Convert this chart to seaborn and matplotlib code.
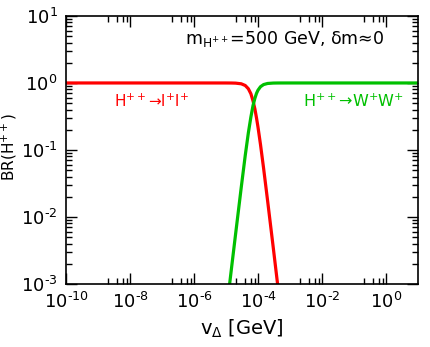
import numpy as np
import pandas as pd
import matplotlib
matplotlib.use("Agg")
import matplotlib.pyplot as plt
from matplotlib.ticker import FixedLocator, NullFormatter, FuncFormatter
import seaborn as sns

# v_Delta [GeV] sample points
v_delta = [1e-10, 1e-6, 1e-5, 1.5e-5, 2e-5, 3e-5, 4e-5, 5e-5, 6e-5, 7e-5, 8e-5,
           9e-5, 1e-4, 1.2e-4, 1.5e-4, 2e-4, 3e-4, 4e-4, 5e-4, 1e-3, 10.0]
br_ll = [1.0, 1.0, 0.9996, 0.998, 0.994, 0.972, 0.917, 0.82, 0.69, 0.54, 0.41,
         0.30, 0.22, 0.12, 0.053, 0.0174, 0.0035, 0.0011, 4.5e-4, 2.8e-5, 1e-12]
br_ww = [1e-20, 3.5e-8, 3.5e-4, 1.78e-3, 0.0056, 0.0277, 0.083, 0.18, 0.31, 0.46, 0.59,
         0.70, 0.78, 0.88, 0.947, 0.983, 0.9965, 0.9989, 0.99955, 1.0, 1.0]

x_major = [1e-10, 1e-8, 1e-6, 1e-4, 1e-2, 1e0]
y_major = [1e-3, 1e-2, 1e-1, 1e0, 1e1]

sns.set_theme(style="ticks")
plt.rcParams["font.family"] = ["DejaVu Sans"]
plt.rcParams["mathtext.fontset"] = "dejavusans"


def decade_label(val, pos):
    # hyphen instead of the wide minus sign, like the original figure
    e = int(round(np.log10(val)))
    if e < 0:
        return r"$10^{\text{-}%d}$" % (-e)
    return r"$10^{%d}$" % e


df = pd.DataFrame({"v": v_delta, "ll": br_ll, "ww": br_ww})

fig = plt.figure(figsize=(4.3, 3.47), dpi=100)
ax = fig.add_axes([0.1535, 0.1816, 0.8185, 0.7724])

sns.lineplot(data=df, x="v", y="ll", color="#ff0000", lw=2.3, sort=False, ax=ax)
sns.lineplot(data=df, x="v", y="ww", color="#00c000", lw=2.3, sort=False, ax=ax)

ax.set_xscale("log")
ax.set_yscale("log")
ax.set_xlim(1e-10, 1e1)
ax.set_ylim(1e-3, 1e1)

ax.xaxis.set_major_locator(FixedLocator(x_major))
ax.yaxis.set_major_locator(FixedLocator(y_major))
ax.xaxis.set_major_formatter(FuncFormatter(decade_label))
ax.yaxis.set_major_formatter(FuncFormatter(decade_label))
# minor ticks only in the decade below each labelled major tick
x_minor = [s * m / 10 for m in x_major for s in (2, 4, 6, 8)]
y_minor = [s * m for m in y_major[:-1] for s in range(2, 10)]
ax.xaxis.set_minor_locator(FixedLocator(x_minor))
ax.yaxis.set_minor_locator(FixedLocator(y_minor))
ax.xaxis.set_minor_formatter(NullFormatter())
ax.yaxis.set_minor_formatter(NullFormatter())

ax.tick_params(which="both", direction="in", top=True, right=True, colors="black",
               labelsize=13, width=1)
ax.tick_params(which="major", length=8, pad=6)
ax.tick_params(which="minor", length=4)
for sp in ax.spines.values():
    sp.set_color("black")
    sp.set_linewidth(1.2)

ax.set_xlabel(r"v$_\Delta$ [GeV]", fontsize=14, color="black")
ax.set_ylabel(r"BR(H$^{++}$)", fontsize=11, color="black")
ax.yaxis.set_label_coords(-0.133, 0.511)

ax.text(0.337, 0.915, r"m$_\mathregular{H^{++}}$=500 GeV, δm≈0", transform=ax.transAxes,
        fontsize=12.5, color="black", va="center", ha="left")
ax.text(0.137, 0.681, r"H$^{++}$→l$^{+}$l$^{+}$", transform=ax.transAxes,
        fontsize=11, color="#ff0000", va="center", ha="left")
ax.text(0.960, 0.681, r"H$^{++}$→W$^{+}$W$^{+}$", transform=ax.transAxes,
        fontsize=11.5, color="#00c000", va="center", ha="right")

fig.savefig("out.png", dpi=100)
